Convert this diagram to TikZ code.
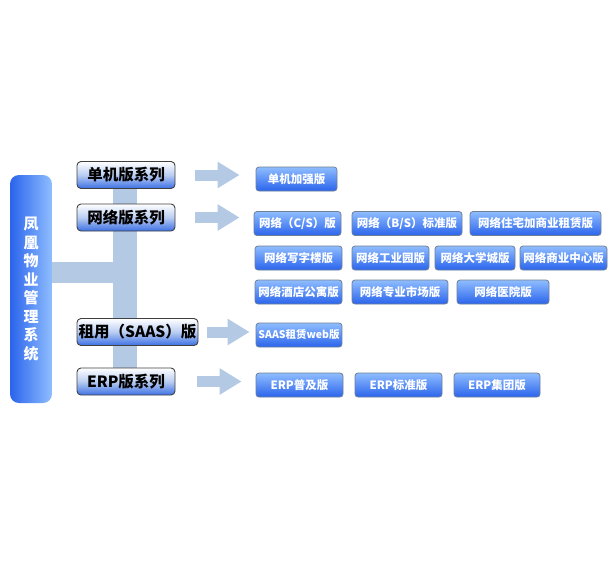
\documentclass[tikz,border=0pt]{standalone}
\usepackage{fontspec}
\usepackage{tikz}
\usetikzlibrary{arrows.meta, positioning, calc, backgrounds}
\newfontfamily\cjk{Noto Sans CJK SC}
\definecolor{barc}{HTML}{B3C9E4}
\definecolor{deepc}{HTML}{2A64EC}
\definecolor{lightc}{HTML}{8FBDFF}
\definecolor{rimc}{HTML}{6F7F96}
\definecolor{catc}{HTML}{3C70E4}
\definecolor{catmid}{HTML}{B9CDF2}

\begin{document}
\begin{tikzpicture}[x=1pt, y=-1pt,
      mainbox/.style={rounded corners=9pt, left color=deepc, right color=lightc,
                      minimum width=42pt, minimum height=228pt, inner sep=0pt,
                      align=center, text=white,
                      font=\cjk\bfseries\fontsize{15}{18.5}\selectfont},
      catbox/.style={rounded corners=4pt, draw=black!75, line width=0.9pt,
                     top color=white, bottom color=catc, middle color=catmid,
                     minimum height=27pt, inner sep=0pt,
                     font=\cjk\bfseries\fontsize{15.5}{17}\selectfont},
      subbox/.style={rounded corners=3pt, draw=rimc, line width=0.8pt,
                     top color=lightc, bottom color=deepc,
                     minimum height=24pt, inner sep=0pt, text=white,
                     font=\cjk\bfseries\fontsize{11.5}{13}\selectfont},
      fat/.style={barc, line width=11pt, -{Triangle[length=22pt, width=25pt]}}]
    \useasboundingbox (0,0) rectangle (610,560);

    \node[mainbox] (sys) at (31,289) {凤\\凰\\物\\业\\管\\理\\系\\统};

    \node[catbox, minimum width=98pt]  (single) at (126,175)   {单机版系列};
    \node[catbox, minimum width=98pt]  (net)    at (126,217.5) {网络版系列};
    \node[catbox, minimum width=121pt] (rent)   at (137.5,332) {租用（SAAS）版};
    \node[catbox, minimum width=98pt]  (erp)    at (126,381.5) {ERP版系列};

    \coordinate (hub) at (125,272);
    \begin{scope}[on background layer]
      \draw[barc, line width=24pt] (single.south -| hub) -- (erp.north -| hub);
      \draw[barc, line width=21pt] (sys.east |- hub) -- (hub);
    \end{scope}

    % single edition
    \node[subbox, minimum width=81pt] (strong) at (296.5,179) {单机加强版};

    % network editions
    \node[subbox, minimum width=87pt]  (netcs)    at (297.5,223.5) {网络（C/S）版};
    \node[subbox, minimum width=110pt] (netbs)    at (407,223.5)   {网络（B/S）标准版};
    \node[subbox, minimum width=131pt] (netmix)   at (535.5,223.5) {网络住宅加商业租赁版};
    \node[subbox, minimum width=87pt]  (office)   at (298.5,258)   {网络写字楼版};
    \node[subbox, minimum width=77pt]  (park)     at (390.5,258)   {网络工业园版};
    \node[subbox, minimum width=80pt]  (campus)   at (475,258)     {网络大学城版};
    \node[subbox, minimum width=87pt]  (mall)     at (563.5,258)   {网络商业中心版};
    \node[subbox, minimum width=87pt]  (hotel)    at (298.5,292)   {网络酒店公寓版};
    \node[subbox, minimum width=96pt]  (market)   at (400,292)     {网络专业市场版};
    \node[subbox, minimum width=92pt]  (hospital) at (503,292)     {网络医院版};

    % rental and ERP editions
    \node[subbox, minimum width=86pt, font=\cjk\bfseries\fontsize{10.5}{12}\selectfont]
      (saas) at (299,335) {SAAS租赁web版};
    \node[subbox, minimum width=87pt] (erpa) at (299.5,385) {ERP普及版};
    \node[subbox, minimum width=87pt] (erpb) at (398.5,385) {ERP标准版};
    \node[subbox, minimum width=86pt] (erpc) at (497,385)   {ERP集团版};

    \draw[fat, shorten <=20pt, shorten >=16pt] (single.east) -- (single.east -| strong.west);
    \draw[fat, shorten <=20pt, shorten >=14pt] (net.east) -- (net.east -| netcs.west);
    \draw[fat, shorten <=9pt,  shorten >=6pt]  (rent.east) -- (rent.east -| saas.west);
    \draw[fat, shorten <=22pt, shorten >=14pt] (erp.east) -- (erp.east -| erpa.west);
  \end{tikzpicture}
\end{document}
